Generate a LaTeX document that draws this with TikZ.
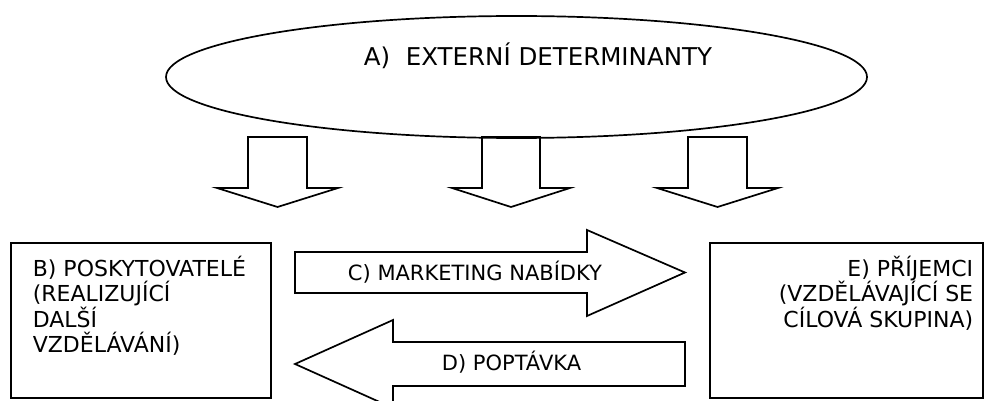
\documentclass[tikz,border=0pt]{standalone}
\usepackage{fontspec}
\setmainfont{DejaVu Sans}
\usetikzlibrary{calc}

\tikzset{
  lbl/.style={font=\fontsize{21}{25.5}\selectfont, inner sep=0pt},
  boxlbl/.style={font=\fontsize{22}{25.5}\selectfont, inner sep=0pt},
  biglbl/.style={font=\fontsize{24.5}{29}\selectfont, inner sep=0pt}
}

\begin{document}
\begin{tikzpicture}[x=1pt,y=-1pt,line width=1.7pt]
\useasboundingbox (0,0) rectangle (984,401);
   % Ellipse A
\coordinate (A) at (516.5,77);
\draw (A) ellipse [x radius=350.5pt, y radius=61pt];
\node[biglbl, anchor=base] (ext) at (538,66) {A)\ \ EXTERNÍ DETERMINANTY};

   % Arrows down
\draw (248,137) -- (307,137) -- (307,188) -- (338,188) -- (277.5,207) -- (217,188) -- (248,188) -- cycle;
\draw (482,137) -- (540,137) -- (540,188) -- (570,188) -- (511,207) -- (452,188) -- (482,188) -- cycle;
\draw (688,137) -- (747,137) -- (747,188) -- (778,188) -- (717.5,207) -- (657,188) -- (688,188) -- cycle;

   % Boxes B and E
\coordinate (B1) at (11,243);
\coordinate (B2) at (271,398);
\coordinate (E1) at (710,243);
\coordinate (E2) at (983,398);
\draw (B1) rectangle (B2);
\draw (E1) rectangle (E2);
% base of a multi-line node is its last line
\node[boxlbl, anchor=base west, align=left] (prov) at (32,352.5)
  {B) POSKYTOVATELÉ\\(REALIZUJÍCÍ\\DALŠÍ\\VZDĚLÁVÁNÍ)};
\node[boxlbl, anchor=base east, align=right] (recv) at (974,327)
  {E) PŘÍJEMCI\\(VZDĚLÁVAJÍCÍ SE\\CÍLOVÁ SKUPINA)};

   % Arrows C and D
\draw (295,252) -- (587,252) -- (587,230) -- (685,272.5) -- (587,316) -- (587,293) -- (295,293) -- cycle;
\draw (685,342) -- (393,342) -- (393,320) -- (295,364) -- (393,408) -- (393,386) -- (685,386) -- cycle;
\node[lbl, anchor=base] (offer) at (475,280) {C) MARKETING NABÍDKY};
\node[lbl, anchor=base] (demand) at (511.5,370) {D) POPTÁVKA};
\end{tikzpicture}
\end{document}
